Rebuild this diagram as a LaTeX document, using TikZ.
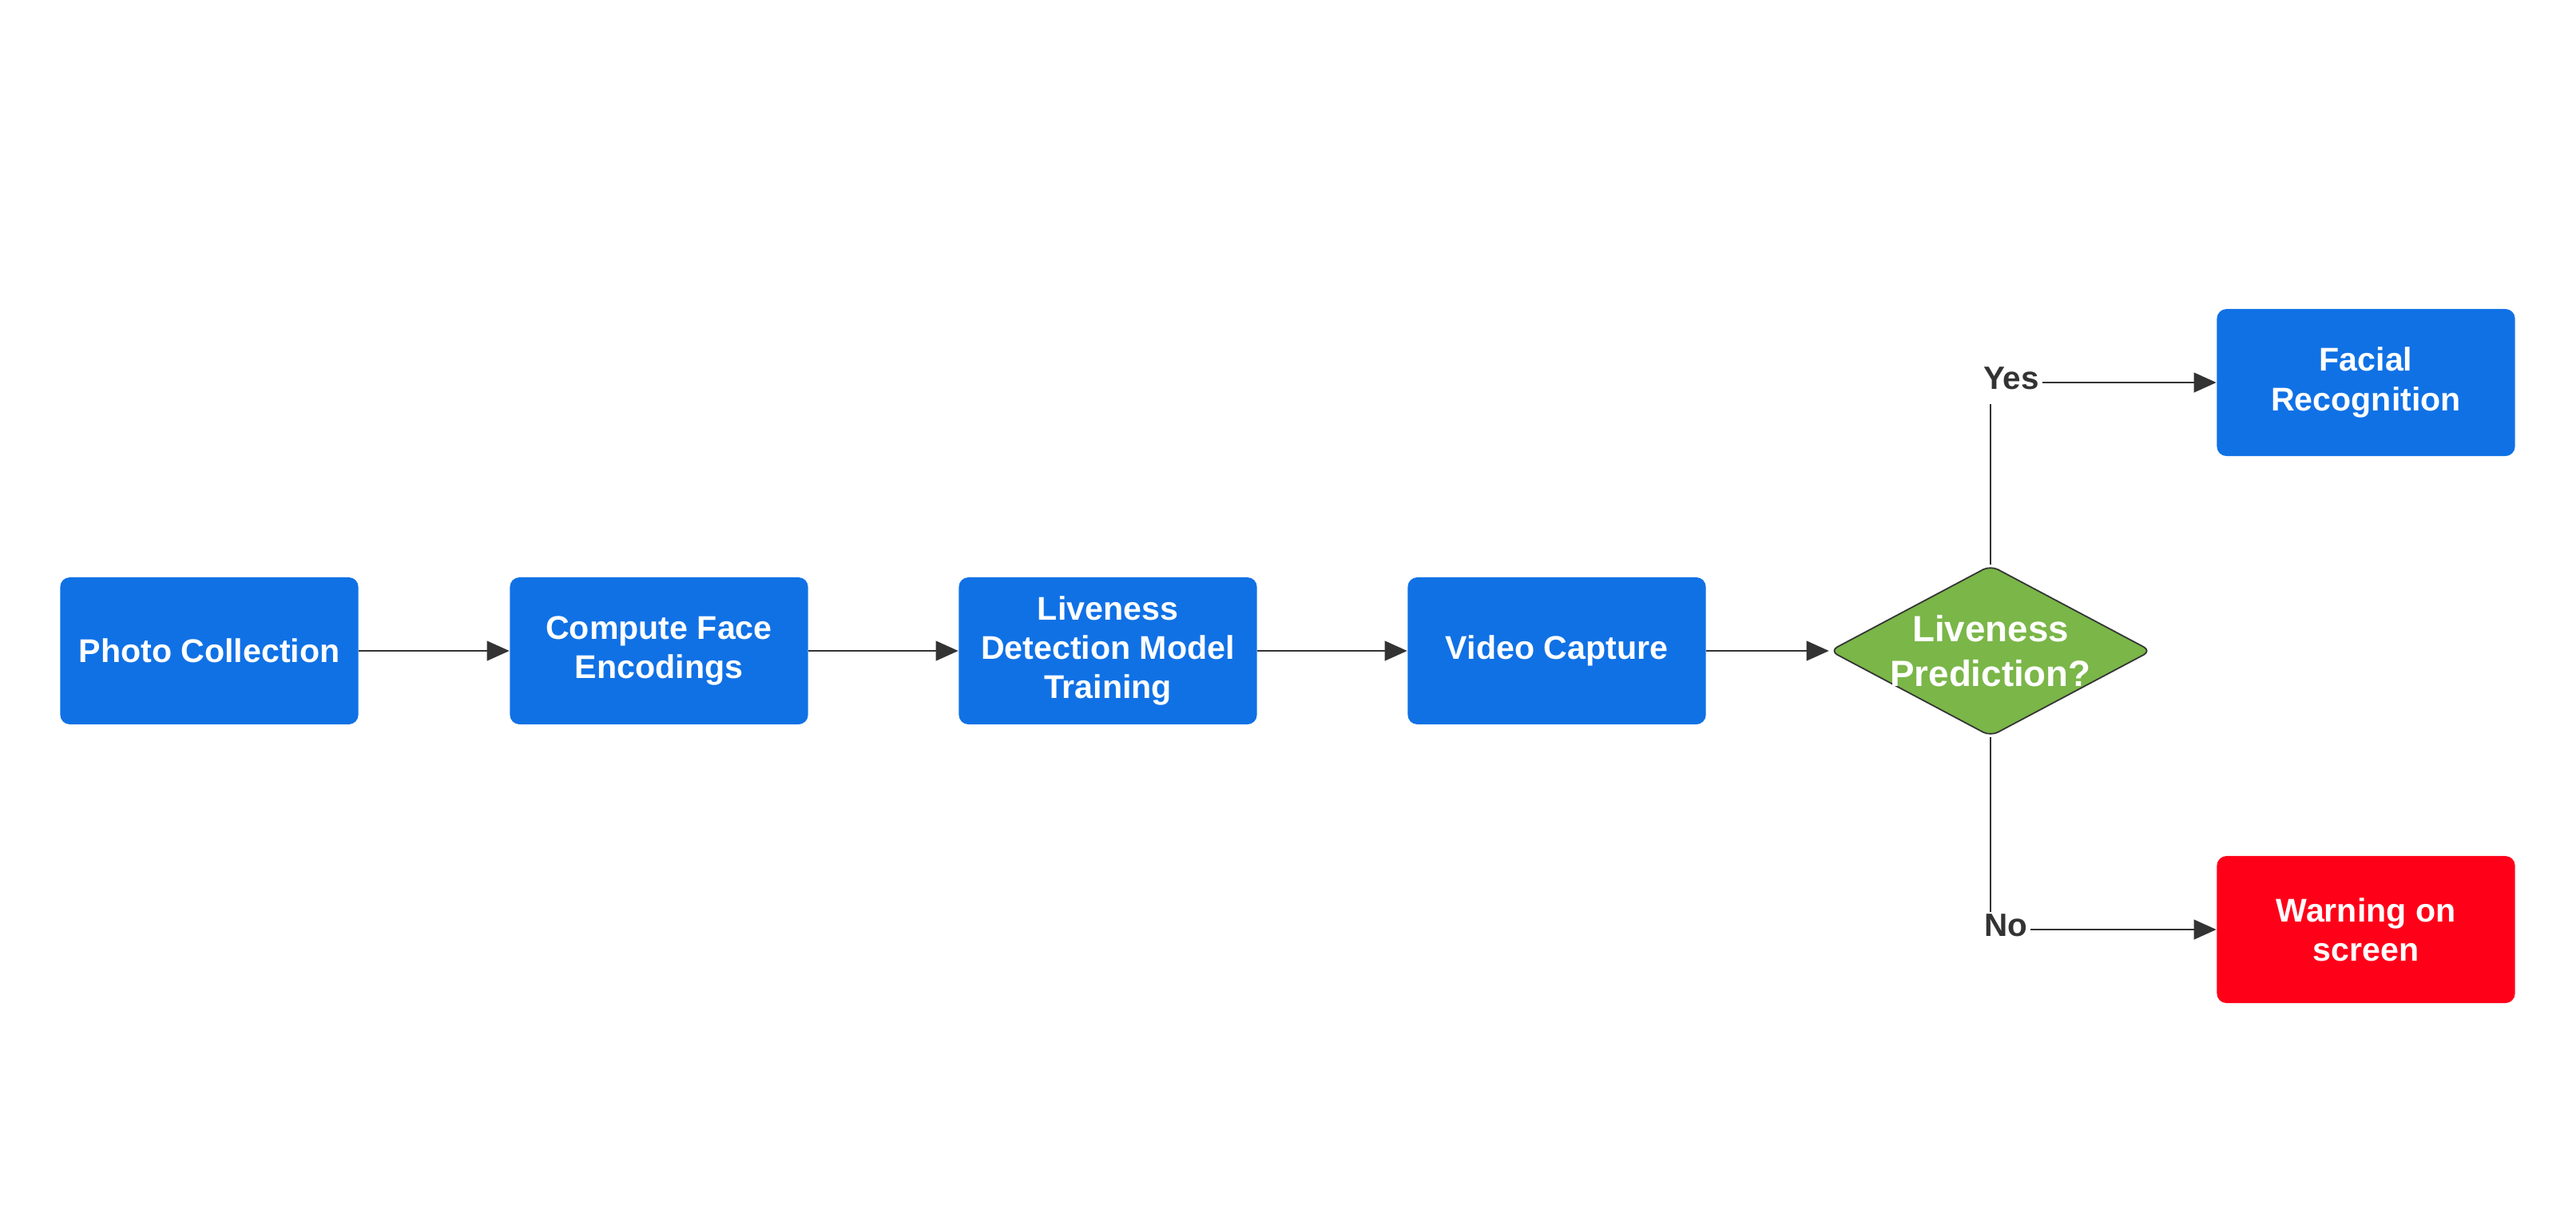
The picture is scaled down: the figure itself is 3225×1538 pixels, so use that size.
\documentclass[tikz,border=0pt]{standalone}
\usepackage{fontspec}
\setmainfont{Liberation Sans}
\usetikzlibrary{shapes.geometric,arrows.meta}
\definecolor{boxblue}{HTML}{1071E5}
\definecolor{diagreen}{HTML}{7AB648}
\definecolor{warnred}{HTML}{FF0019}
\definecolor{linegray}{HTML}{333333}
\tikzset{
  proc/.style={rectangle, rounded corners=0.12cm, fill=boxblue, text=white,
    font=\bfseries\fontsize{11.7}{14}\selectfont, align=center,
    minimum width=3.73cm, minimum height=1.84cm, inner sep=0pt},
  warnbox/.style={proc, fill=warnred},
  decision/.style={diamond, aspect=1.88, fill=diagreen, draw=linegray, line width=0.5pt,
    rounded corners=3pt, text=white, font=\bfseries\fontsize{13}{15.8}\selectfont,
    align=center, minimum width=3.9cm, minimum height=2.05cm, inner sep=-0.8pt},
  lbl/.style={text=linegray, font=\bfseries\fontsize{11.5}{13}\selectfont, inner sep=1pt},
  conn/.style={draw=linegray, line width=0.75pt, -{Triangle[length=8pt,width=7pt]}},
  plainline/.style={draw=linegray, line width=0.55pt}
}
\begin{document}
\begin{tikzpicture}[x=0.01cm,y=-0.01cm]
\useasboundingbox (0,0) rectangle (3225,1538);
\node[proc] (pc) at (262,815) {Photo Collection};
\node[proc] (cf) at (825,815) {Compute Face\\Encodings};
\node[proc] (ld) at (1387,815) {Liveness\\Detection Model\\Training};
\node[proc] (vc) at (1949,815) {Video Capture};
\node[decision] (lp) at (2492,815) {Liveness\\Prediction?};
\node[proc] (fr) at (2962,479) {Facial\\Recognition};
\node[warnbox] (ws) at (2962,1164) {Warning on\\screen};
\node[lbl] (yes) at (2518,474) {Yes};
\node[lbl] (no) at (2511,1159) {No};
\coordinate (yt) at (2492,506);
\coordinate (nb) at (2492,1142);
\draw[conn] (pc) -- (cf);
\draw[conn] (cf) -- (ld);
\draw[conn] (ld) -- (vc);
\draw[conn] (vc) -- (lp);
\draw[plainline] (lp.north) -- (yt);
\draw[plainline] (lp.south) -- (nb);
\draw[conn] (yes.east |- fr.west) -- (fr.west);
\draw[conn] (no.east |- ws.west) -- (ws.west);
\end{tikzpicture}
\end{document}
